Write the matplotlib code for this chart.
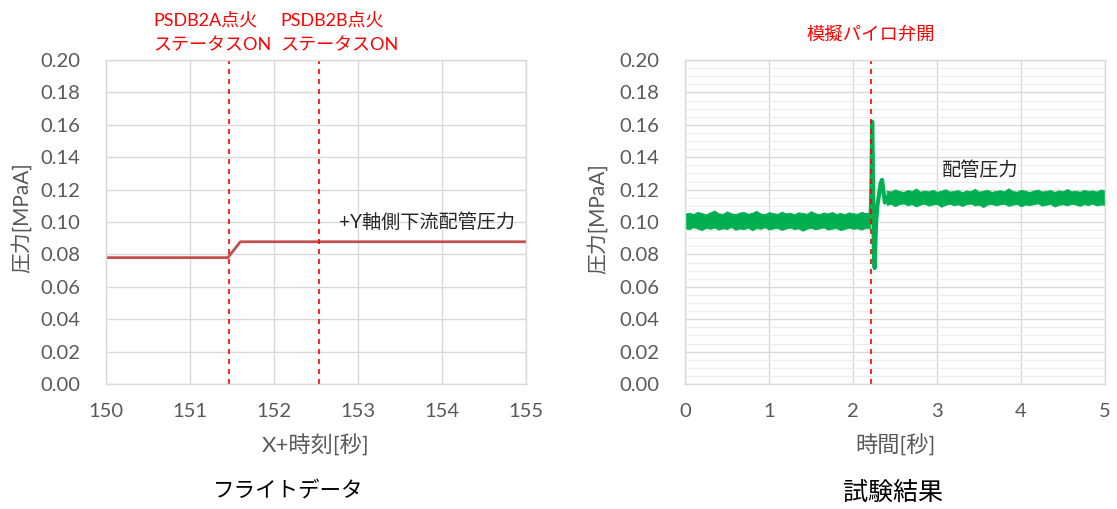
import matplotlib
matplotlib.use("Agg")
import numpy as np
import matplotlib.pyplot as plt
from matplotlib.ticker import MultipleLocator

plt.rcParams['font.family'] = ['Lato', 'Noto Sans CJK JP', 'DejaVu Sans']

# ---- Left chart: flight data ----
flight_t = [150.0, 151.45, 151.6, 155.0]
flight_p = [0.078, 0.078, 0.0878, 0.0878]
flight_events = [151.46, 152.54]
flight_event_line1 = ["PSDB2A点火", "PSDB2B点火"]
flight_event_line2 = ["ステータスON", "ステータスON"]
flight_xticks = [150, 151, 152, 153, 154, 155]

# ---- Right chart: test result (noise band envelopes + transient) ----
band1_hi = [0.1052, 0.1058, 0.1049, 0.1063, 0.1055, 0.1047, 0.1060, 0.1071, 0.1053, 0.1050,
            0.1066, 0.1054, 0.1048, 0.1059, 0.1062, 0.1051, 0.1057, 0.1069, 0.1052, 0.1049,
            0.1061, 0.1055, 0.1050, 0.1064, 0.1053, 0.1058, 0.1047, 0.1060, 0.1056, 0.1051,
            0.1067, 0.1054, 0.1049, 0.1059, 0.1053, 0.1062, 0.1050, 0.1056, 0.1048, 0.1060,
            0.1054, 0.1051, 0.1063, 0.1055, 0.1058]
band1_lo = [0.0962, 0.0955, 0.0968, 0.0959, 0.0950, 0.0964, 0.0958, 0.0966, 0.0953, 0.0961,
            0.0957, 0.0969, 0.0952, 0.0960, 0.0956, 0.0965, 0.0949, 0.0962, 0.0958, 0.0967,
            0.0954, 0.0960, 0.0963, 0.0951, 0.0959, 0.0966, 0.0956, 0.0961, 0.0946, 0.0958,
            0.0964, 0.0955, 0.0960, 0.0967, 0.0953, 0.0959, 0.0962, 0.0950, 0.0957, 0.0965,
            0.0958, 0.0961, 0.0953, 0.0963, 0.0960]
band1_span = (0.0, 2.20)

trans_t = [2.20, 2.21, 2.22, 2.228, 2.235, 2.242, 2.25, 2.258, 2.265, 2.275, 2.29, 2.31,
           2.33, 2.345, 2.36, 2.38, 2.40]
trans_p = [0.100, 0.102, 0.125, 0.162, 0.140, 0.105, 0.080, 0.0716, 0.085, 0.100, 0.110,
           0.117, 0.124, 0.126, 0.120, 0.112, 0.115]

band2_hi = [0.1195, 0.1188, 0.1201, 0.1192, 0.1185, 0.1198, 0.1190, 0.1207, 0.1187, 0.1194,
            0.1189, 0.1199, 0.1186, 0.1193, 0.1203, 0.1188, 0.1191, 0.1197, 0.1184, 0.1195,
            0.1190, 0.1205, 0.1187, 0.1193, 0.1199, 0.1186, 0.1192, 0.1196, 0.1189, 0.1208,
            0.1191, 0.1187, 0.1198, 0.1193, 0.1185, 0.1194, 0.1200, 0.1188, 0.1192, 0.1197,
            0.1186, 0.1195, 0.1190, 0.1204, 0.1189, 0.1193, 0.1187, 0.1198, 0.1191, 0.1195,
            0.1188, 0.1201, 0.1192]
band2_lo = [0.1105, 0.1112, 0.1098, 0.1109, 0.1115, 0.1103, 0.1110, 0.1096, 0.1107, 0.1113,
            0.1101, 0.1108, 0.1111, 0.1094, 0.1106, 0.1112, 0.1104, 0.1109, 0.1099, 0.1110,
            0.1114, 0.1102, 0.1107, 0.1092, 0.1108, 0.1111, 0.1103, 0.1109, 0.1113, 0.1100,
            0.1106, 0.1112, 0.1097, 0.1108, 0.1104, 0.1110, 0.1115, 0.1101, 0.1107, 0.1111,
            0.1095, 0.1106, 0.1109, 0.1103, 0.1112, 0.1108, 0.1099, 0.1110, 0.1105, 0.1113,
            0.1102, 0.1108, 0.1106]
band2_span = (2.40, 5.00)

test_event = 2.22
test_xticks = [0, 1, 2, 3, 4, 5]
yticks = [0.00, 0.02, 0.04, 0.06, 0.08, 0.10, 0.12, 0.14, 0.16, 0.18, 0.20]

tick_color = '#595959'
grid_color = '#d9d9d9'
green = '#00b050'
red = '#ff0000'
text_dark = '#262626'

W, H = 1117, 509
fig = plt.figure(figsize=(W / 100, H / 100), dpi=100)
axL = fig.add_axes([106 / W, 1 - 384 / H, 420 / W, 324 / H])
axR = fig.add_axes([685 / W, 1 - 384 / H, 420 / W, 324 / H])

for ax in (axL, axR):
    ax.set_ylim(0, 0.20)
    ax.set_yticks(yticks)
    ax.set_yticklabels([f"{v:.2f}" for v in yticks])
    ax.tick_params(axis='both', which='both', length=0, labelsize=14.5, colors=tick_color)
    ax.tick_params(axis='y', pad=18.5)
    ax.tick_params(axis='x', pad=14)
    for sp in ax.spines.values():
        sp.set_color(grid_color)
        sp.set_linewidth(1.0)
    ax.grid(True, which='major', color=grid_color, linewidth=1.0)
    ax.set_axisbelow(True)

fig.text(22 / W, 1 - 218 / H, "圧力[MPaA]", rotation=90, ha='center', va='center',
         fontsize=15, color=tick_color)
fig.text(598 / W, 1 - 219 / H, "圧力[MPaA]", rotation=90, ha='center', va='center',
         fontsize=15, color=tick_color)

# Left
axL.set_xlim(150, 155)
axL.set_xticks(flight_xticks)
axL.plot(flight_t, flight_p, color='#c0504d', linewidth=2.0)
for x in flight_events:
    axL.axvline(x, color=red, linestyle=(0, (3, 3)), linewidth=1.2)
for xl, l1, l2 in zip([153.6, 280.0], flight_event_line1, flight_event_line2):
    fig.text(xl / W, 1 - 20 / H, l1, ha='left', va='center', color=red, fontsize=13)
    fig.text(xl / W, 1 - 45 / H, l2, ha='left', va='center', color=red, fontsize=13)
axL.text(154.87, 0.100, "+Y軸側下流配管圧力", ha='right', va='center', fontsize=13.8,
         color=text_dark)
fig.text(316 / W, 1 - 446 / H, "X+時刻[秒]", ha='center', va='center', fontsize=16,
         color=tick_color)

# Right
axR.set_xlim(0, 5)
axR.set_xticks(test_xticks)
axR.yaxis.set_minor_locator(MultipleLocator(0.005))
axR.tick_params(axis='y', which='minor', length=0)
axR.grid(True, which='minor', axis='y', color='#ececec', linewidth=0.8)
t1 = np.linspace(band1_span[0], band1_span[1], len(band1_hi))
t2 = np.linspace(band2_span[0], band2_span[1], len(band2_hi))
axR.fill_between(t1, band1_lo, band1_hi, color=green, linewidth=0.6, edgecolor=green)
axR.fill_between(t2, band2_lo, band2_hi, color=green, linewidth=0.6, edgecolor=green)
axR.plot(trans_t, trans_p, color=green, linewidth=3.0)
axR.axvline(test_event, color=red, linestyle=(0, (3, 3)), linewidth=1.2)
fig.text(871 / W, 1 - 35 / H, "模擬パイロ弁開", ha='center', va='center', color=red,
         fontsize=13.2)
axR.text(3.06, 0.132, "配管圧力", ha='left', va='center', fontsize=13.8, color=text_dark)
fig.text(895 / W, 1 - 446 / H, "時間[秒]", ha='center', va='center', fontsize=16,
         color=tick_color)

fig.text(288 / W, 1 - 492 / H, "フライトデータ", ha='center', va='center', fontsize=15.5,
         color='black')
fig.text(893 / W, 1 - 492 / H, "試験結果", ha='center', va='center', fontsize=18,
         color='black')

fig.savefig("out.png", dpi=100)
